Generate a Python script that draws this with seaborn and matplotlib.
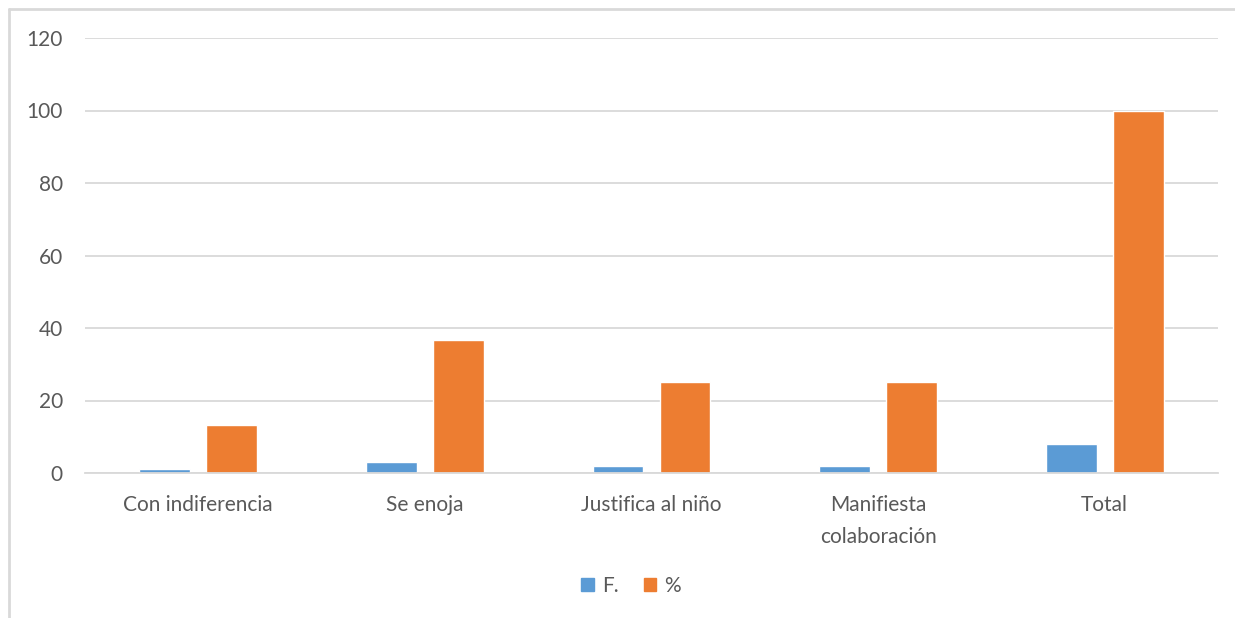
import pandas as pd
import seaborn as sns
import matplotlib.pyplot as plt
from matplotlib.lines import Line2D

# data
categorias = ["Con indiferencia", "Se enoja", "Justifica al niño",
              "Manifiesta\ncolaboración", "Total"]
frecuencia = [1, 3, 2, 2, 8]
porcentaje = [13.3, 36.7, 25, 25, 100]

df = pd.DataFrame({"cat": categorias * 2,
                   "serie": ["F."] * 5 + ["%"] * 5,
                   "valor": frecuencia + porcentaje})

sns.set_theme(style="white")
plt.rcParams['font.family'] = ['Lato', 'DejaVu Sans']
gris = "#595959"

fig = plt.figure(figsize=(12.35, 6.18), dpi=100)
ax = fig.add_axes([85 / 1235, 1 - 473 / 618, 1133 / 1235, 435 / 618])

sns.barplot(data=df, x="cat", y="valor", hue="serie",
            palette=["#5b9bd5", "#ed7d31"], saturation=1, width=0.59, gap=0.24,
            ax=ax, legend=False)

ax.set_ylim(0, 120)
ax.set_yticks(range(0, 121, 20))
ax.set_xlim(-0.5, 4.5)
ax.yaxis.grid(True, color="#d9d9d9", linewidth=1.3)
ax.set_axisbelow(True)
for s in ["top", "right", "left"]:
    ax.spines[s].set_visible(False)
ax.spines["bottom"].set_color("#d9d9d9")
ax.spines["bottom"].set_linewidth(1.3)
ax.tick_params(axis="y", length=0, pad=16, labelsize=15, labelcolor=gris)
ax.tick_params(axis="x", length=0, pad=16, labelsize=15, labelcolor=gris)
for t in ax.get_xticklabels():
    t.set_linespacing(1.75)
ax.set_xlabel("")
ax.set_ylabel("")

# legend at the bottom
handles = [plt.Rectangle((0, 0), 1, 1, color="#5b9bd5"),
           plt.Rectangle((0, 0), 1, 1, color="#ed7d31")]
fig.legend(handles, ["F.", "%"], loc="center", bbox_to_anchor=(631 / 1235, 1 - 586 / 618),
           ncol=2, frameon=False, fontsize=15, labelcolor=gris,
           handlelength=0.6, handleheight=0.6, handletextpad=0.4, columnspacing=1.2)

# outer frame (left and top edges visible)
fig.add_artist(Line2D([9 / 1235, 9 / 1235], [0, 1 - 9 / 618], color="#d9d9d9", linewidth=2))
fig.add_artist(Line2D([9 / 1235, 1], [1 - 9 / 618, 1 - 9 / 618], color="#d9d9d9", linewidth=2))

fig.savefig("out.png", dpi=100)
